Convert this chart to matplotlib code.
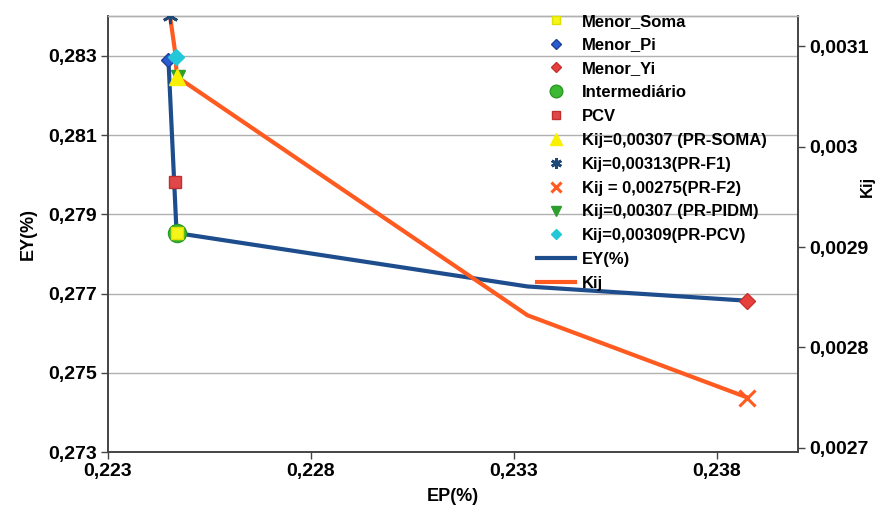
import matplotlib
matplotlib.use("Agg")
import matplotlib.pyplot as plt
from matplotlib.ticker import FixedLocator, FuncFormatter

plt.rcParams['font.family'] = ['Liberation Sans', 'DejaVu Sans']
plt.rcParams['font.weight'] = 'bold'

# EY(%) curve vs EP(%)
ep_ey = [0.22449, 0.22469, 0.23334, 0.23876]
ey = [0.2829, 0.27853, 0.27718, 0.27682]

# Kij curve vs EP(%)
ep_kij = [0.22453, 0.22467, 0.22469, 0.23334, 0.23876]
kij = [0.00313, 0.00309, 0.00307, 0.002832, 0.00275]

# Highlighted solutions on the EY axis (EP, EY)
menor_soma = (0.22469, 0.27853)
menor_pi = (0.22449, 0.2829)
menor_yi = (0.23876, 0.27682)
intermediario = (0.22469, 0.27853)
pcv = (0.22465, 0.27983)

# Highlighted solutions on the Kij axis (EP, Kij)
pr_soma = (0.22469, 0.00307)
pr_f1 = (0.22453, 0.00313)
pr_f2 = (0.23876, 0.00275)
pr_pidm = (0.22473, 0.00307)
pr_pcv = (0.22467, 0.00309)

x_ticks = [0.223, 0.228, 0.233, 0.238]
ey_ticks = [0.273, 0.275, 0.277, 0.279, 0.281, 0.283]
kij_ticks = [0.0027, 0.0028, 0.0029, 0.0030, 0.0031]

BLUE = '#1d4d8c'
ORANGE = '#ff5a1f'

fig = plt.figure(figsize=(8.82, 5.13), dpi=100)
ax = fig.add_axes([108/882, 1-452/513, (797.7-108)/882, (452-16)/513])
ax2 = ax.twinx()

# Lines
l_ey, = ax.plot(ep_ey, ey, color=BLUE, lw=3, label='EY(%)', zorder=2)
l_kij, = ax2.plot(ep_kij, kij, color=ORANGE, lw=3, label='Kij', zorder=2)

# EY markers
h_int, = ax.plot(*intermediario, 'o', ms=13, color='#3cb832', mec='#2a9a22',
                 ls='none', label='Intermediário', zorder=4)
h_soma, = ax.plot(*menor_soma, 's', ms=8, color='#f5f51a', mec='#e0e000',
                  ls='none', label='Menor_Soma', zorder=5)
h_pi, = ax.plot(*menor_pi, 'D', ms=7, color='#2a5bd0', mec='#1d3f9a',
                ls='none', label='Menor_Pi', zorder=5)
h_yi, = ax.plot(*menor_yi, 'D', ms=8, color='#e8403c', mec='#c83030',
                ls='none', label='Menor_Yi', zorder=5)
h_pcv, = ax.plot(*pcv, 's', ms=9, color='#e04848', mec='#c03030',
                 ls='none', label='PCV', zorder=5)

# Kij markers
h_pidm, = ax2.plot(*pr_pidm, 'v', ms=10, color='#2e9e2e', ls='none',
                   label='Kij=0,00307 (PR-PIDM)', zorder=4)
h_psoma, = ax2.plot(*pr_soma, '^', ms=12, color='#f8f000', ls='none',
                    label='Kij=0,00307 (PR-SOMA)', zorder=5)
h_f1, = ax2.plot(*pr_f1, marker=(6, 2, 0), ms=11, mew=2, color='#1f4a78',
                 ls='none', label='Kij=0,00313(PR-F1)', zorder=5)
h_f2, = ax2.plot(*pr_f2, 'x', ms=11, mew=2.2, color=ORANGE, ls='none',
                 label='Kij = 0,00275(PR-F2)', zorder=5)
h_ppcv, = ax2.plot(*pr_pcv, 'D', ms=8, color='#22c8d8', ls='none',
                   label='Kij=0,00309(PR-PCV)', zorder=5)

# Axes limits and ticks
ax.set_xlim(0.223, 0.240)
ax.set_ylim(0.273, 0.28401)
ax2.set_ylim(0.0026957, 0.0031304)
ax.xaxis.set_major_locator(FixedLocator(x_ticks))
ax.yaxis.set_major_locator(FixedLocator(ey_ticks))
ax2.yaxis.set_major_locator(FixedLocator(kij_ticks))

comma = lambda s: s.replace('.', ',')
ax.xaxis.set_major_formatter(FuncFormatter(lambda v, p: comma(f"{v:.3f}")))
ax.yaxis.set_major_formatter(FuncFormatter(lambda v, p: comma(f"{v:.3f}")))
ax2.yaxis.set_major_formatter(FuncFormatter(lambda v, p: comma(f"{v:.4f}".rstrip('0'))))

for a in (ax, ax2):
    a.tick_params(axis='both', labelsize=14, length=5, width=1, color='#444444',
                  direction='out')
ax.tick_params(axis='x', pad=3)
ax.tick_params(axis='y', pad=3)
ax2.tick_params(axis='y', pad=3)

ax.grid(axis='y', color='#b0b0b0', lw=1)
ax.set_axisbelow(True)

for a in (ax, ax2):
    for side in ('left', 'bottom', 'right'):
        a.spines[side].set_color('#444444')
        a.spines[side].set_linewidth(1.2)
    a.spines['top'].set_color('#b0b0b0')
    a.spines['top'].set_linewidth(1)

ax.set_xlabel('EP(%)', fontsize=13, fontweight='bold', labelpad=6)
ax.set_ylabel('EY(%)', fontsize=13, fontweight='bold', labelpad=8)
ax2.set_ylabel('Kij', fontsize=12, fontweight='bold')
ax2.yaxis.set_label_coords(1.09, 0.608)

handles = [h_soma, h_pi, h_yi, h_int, h_pcv, h_psoma, h_f1, h_f2, h_pidm,
           h_ppcv, l_ey, l_kij]
leg = ax2.legend(handles=handles, loc='upper left',
                 bbox_to_anchor=(530/882, 1-7/513), bbox_transform=fig.transFigure,
                 frameon=False, prop={'size': 12, 'weight': 'bold'},
                 handlelength=2.3, handletextpad=0.4, labelspacing=0.53,
                 borderaxespad=0, markerscale=0.7)
leg.set_zorder(10)

fig.savefig('out.png', dpi=100)
